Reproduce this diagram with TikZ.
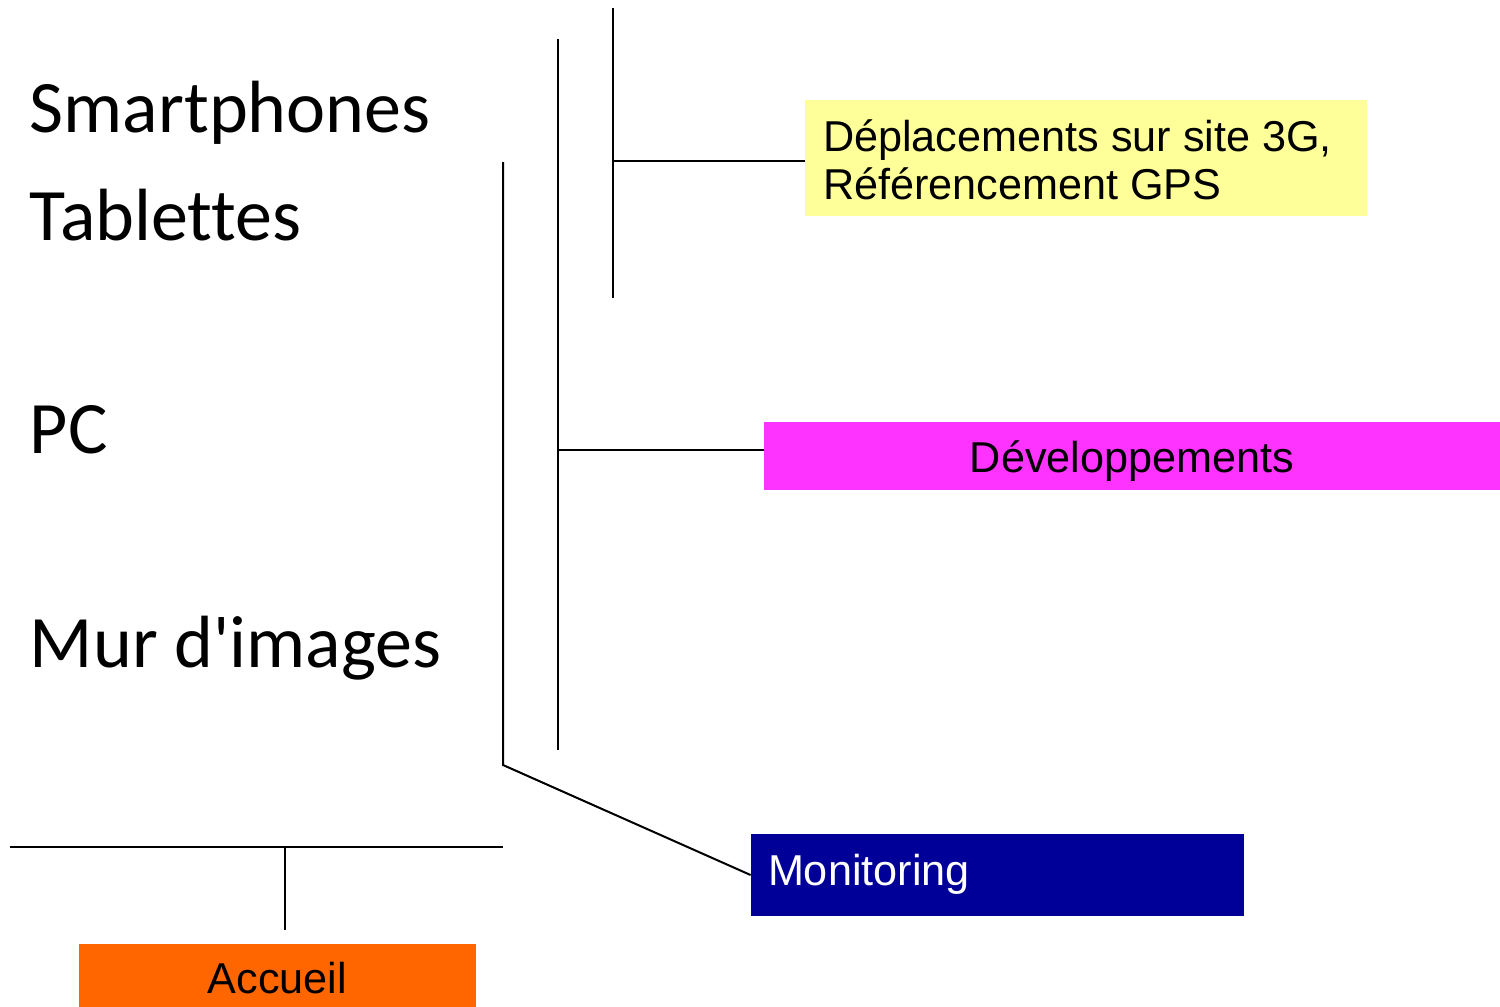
\documentclass[tikz,border=0pt]{standalone}
\usepackage{fontspec}
\setmainfont{Liberation Sans}
\newfontfamily\devfont[Ligatures=NoCommon]{Carlito}
\usetikzlibrary{positioning}

\definecolor{gpsyellow}{HTML}{FFFF99}
\definecolor{devmagenta}{HTML}{FF33FF}
\definecolor{monblue}{HTML}{000099}
\definecolor{accorange}{HTML}{FF6600}

\tikzset{
  device/.style={anchor=base west,inner sep=0pt,font=\devfont\fontsize{37}{44}\selectfont},
  task/.style={inner sep=0pt,font=\fontsize{21.6}{24}\selectfont},
  link/.style={line width=1pt},
}

\begin{document}
\begin{tikzpicture}[x=0.5pt,y=-0.5pt]
\useasboundingbox (0,0) rectangle (1500,1007);

% supports
\foreach \i / \y / \element in {1/132/Smartphones,2/240/Tablettes,3/453/PC,4/667/{Mur d\textquotesingle images}}
  \node [device] (s\i) at (29.5,\y) {\element};

% tasks
\node [task,fill=gpsyellow,minimum width=281pt,minimum height=58pt,text height=0pt,text depth=7pt] (gps) at (1086,158)
  {\parbox[t]{263pt}{Déplacements sur site 3G,\\Référencement GPS}};
\node [task,fill=devmagenta,minimum width=368pt,minimum height=34pt,text height=16pt,text depth=0pt] (dev) at (1132,456) {Développements};
\node [task,fill=monblue,text=white,minimum height=41pt,text width=229.5pt,align=left,inner xsep=8.5pt,text height=10pt,text depth=0pt] (mon) at (997.5,875) {Monitoring};
\node [task,fill=accorange,minimum width=198.5pt,minimum height=31.5pt,text height=17.5pt,text depth=0pt] (acc) at (277.5,975.5) {Accueil};

% brackets
\coordinate (gtop) at (613,8);
\coordinate (gbot) at (613,298);
\coordinate (gmid) at (613,161);
\coordinate (dtop) at (558,39);
\coordinate (dbot) at (558,750);
\coordinate (dmid) at (558,450);
\coordinate (mtop) at (503,162);
\coordinate (mbot) at (503,765);
\coordinate (aleft) at (10,847);
\coordinate (aright) at (503,847);
\coordinate (amid) at (285,847);
\coordinate (aend) at (285,930);

\draw [link] (gtop) -- (gbot);
\draw [link] (gmid) -- (gmid -| gps.west);
\draw [link] (dtop) -- (dbot);
\draw [link] (dmid) -- (dmid -| dev.west);
\draw [link] (mtop) -- (mbot) -- (mon.west);
\draw [link] (aleft) -- (aright);
\draw [link] (amid) -- (aend);

\end{tikzpicture}
\end{document}
